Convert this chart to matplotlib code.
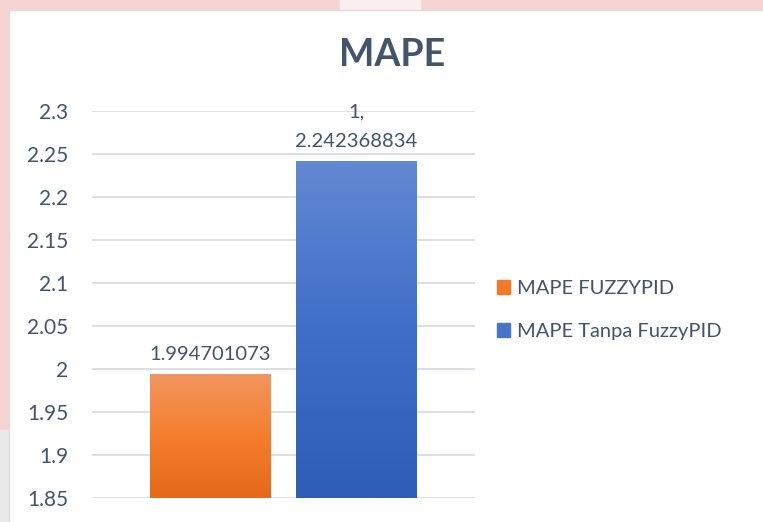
import numpy as np
import matplotlib.pyplot as plt
from matplotlib.colors import LinearSegmentedColormap
from matplotlib.patches import Rectangle

# data
series = ["MAPE FUZZYPID", "MAPE Tanpa FuzzyPID"]
values = [1.994701073, 2.242368834]
labels = ["1.994701073", "1,\n2.242368834"]
yticks = [1.85, 1.9, 1.95, 2, 2.05, 2.1, 2.15, 2.2, 2.25, 2.3]

txt = "#44546a"
grads = [("#f19660", "#f47e2e", "#e4691a"), ("#6388d2", "#3f6fc9", "#2e5db6")]
solid = ["#ed7d31", "#4472c4"]

plt.rcParams['font.family'] = ['Lato', 'DejaVu Sans']

fig = plt.figure(figsize=(7.63, 5.22), dpi=100)
fig.patch.set_facecolor("white")

# screenshot border bits
fig.patches.append(Rectangle((0, 1 - 10 / 522), 1, 10 / 522, transform=fig.transFigure,
                             color="#f6d3d3", zorder=0))
fig.patches.append(Rectangle((340 / 763, 1 - 10 / 522), 80 / 763, 10 / 522,
                             transform=fig.transFigure, color="#fbeeee", zorder=0))
fig.patches.append(Rectangle((0, 0), 9 / 763, 1, transform=fig.transFigure,
                             color="#f6d3d3", zorder=0))
fig.patches.append(Rectangle((0, 0), 9 / 763, 92 / 522, transform=fig.transFigure,
                             color="#e8e8e8", zorder=0))
fig.patches.append(Rectangle((9 / 763, -0.01), 1, 1 - 10 / 522 + 0.01, transform=fig.transFigure,
                             facecolor="white", edgecolor="#dcdcdc", linewidth=1, zorder=0))

ax = fig.add_axes([92 / 763, 1 - 498 / 522, 383 / 763, 387 / 522])
ax.set_facecolor("none")
ax.set_zorder(2)

x = np.arange(len(values))
width = 0.82
bars = ax.bar(x, values, width=width, color=solid, zorder=2)

# vertical gradient fill clipped to each bar
for b, (top, mid, bot) in zip(bars, grads):
    cmap = LinearSegmentedColormap.from_list("g", [bot, mid, top])
    grad = np.linspace(0, 1, 256).reshape(-1, 1)
    im = ax.imshow(grad, cmap=cmap, origin="lower", aspect="auto",
                   extent=[b.get_x(), b.get_x() + b.get_width(), 1.85, b.get_height()],
                   zorder=3)
    im.set_clip_path(b)

for xi, v, lab in zip(x, values, labels):
    ax.text(xi, v + 0.012, lab, ha="center", va="bottom", fontsize=14.5,
            color=txt, linespacing=1.95)

ax.set_ylim(1.85, 2.3)
ax.set_xlim(-0.805, 1.809)
ax.set_yticks(yticks)
ax.set_yticklabels([f"{t:g}" for t in yticks])
ax.set_xticks([])
ax.tick_params(axis="y", length=0, labelsize=15, labelcolor=txt, pad=17)
ax.yaxis.grid(True, color="#d9dde3", linewidth=1.3, zorder=0)
ax.set_axisbelow(True)
for s in ax.spines.values():
    s.set_visible(False)

fig.text(392 / 763, 1 - 55 / 522, "MAPE", ha="center", va="center",
         fontsize=27, fontweight="bold", color=txt)

handles = [Rectangle((0, 0), 1, 1, color=c) for c in ["#f07a2a", "#4a74c8"]]
fig.legend(handles, series, loc="center left", bbox_to_anchor=(479 / 763, 1 - 310 / 522),
           frameon=False, fontsize=14.5, labelcolor=txt, handlelength=0.65,
           handleheight=0.65, handletextpad=0.35, labelspacing=1.3)

fig.savefig("out.png", dpi=100)
